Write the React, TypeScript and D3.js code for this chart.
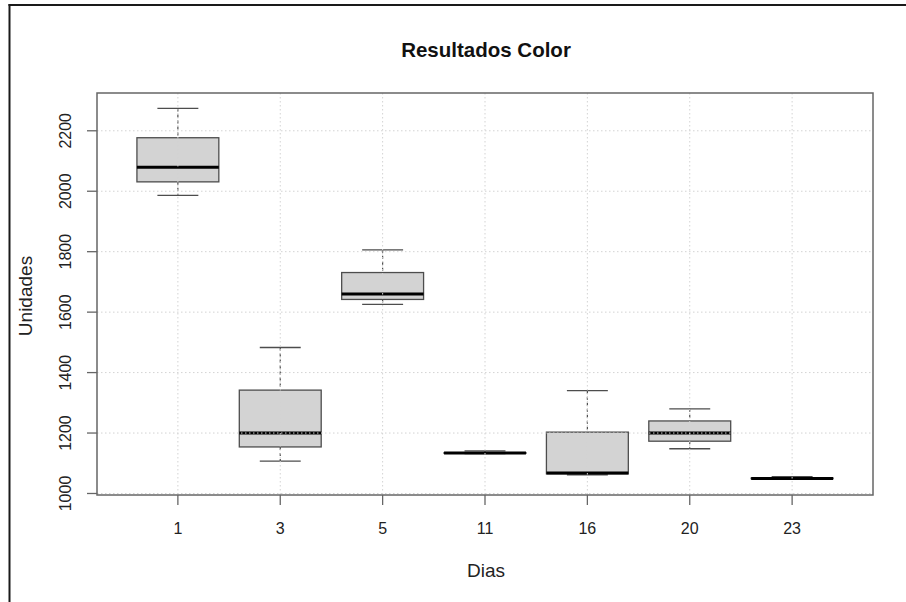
import React from "react";
import * as d3 from "d3";

const dias = ["1", "3", "5", "11", "16", "20", "23"];
const lowerWhisker = [1986, 1107, 1626, 1132, 1062, 1148, 1048];
const q1 = [2031, 1154, 1642, 1133, 1065, 1173, 1049];
const medians = [2079, 1200, 1660, 1134, 1068, 1200, 1050];
const q3 = [2177, 1342, 1731, 1135, 1203, 1240, 1051];
const upperWhisker = [2274, 1483, 1806, 1141, 1340, 1280, 1056];
const yTicks = [1000, 1200, 1400, 1600, 1800, 2000, 2200];

const W = 906;
const H = 602;
const L = 97, R = 873, T = 93, B = 495;

export default function App() {
  const x = d3.scaleLinear().domain([0.21, 7.79]).range([L, R]);
  const y = d3.scaleLinear().domain([995, 2325]).range([B, T]);
  const boxW = x(0.8) - x(0);
  const capW = x(0.4) - x(0);
  const font = "Liberation Sans, Arial, sans-serif";
  const boxStroke = "#4d4d4d";
  const gridColor = "#d3d3d3";

  return (
    <svg width={W} height={H} style={{ position: "absolute", left: 0, top: 0, background: "#fff" }} fontFamily={font}>
      <rect x={0} y={0} width={W} height={H} fill="#fff" />
      {/* outer frame */}
      <line x1={9.5} x2={9.5} y1={4} y2={H} stroke="#1a1a1a" strokeWidth={2} />
      <line x1={8.5} x2={W} y1={5} y2={5} stroke="#1a1a1a" strokeWidth={2} />

      <text x={486} y={57} textAnchor="middle" fontWeight="bold" fontSize={20.5} fill="#111">
        Resultados Color
      </text>

      {/* boxes */}
      {dias.map((d, i) => {
        const cx = x(i + 1);
        return (
          <g key={d}>
            <line x1={cx} x2={cx} y1={y(upperWhisker[i])} y2={y(q3[i])} stroke={boxStroke} strokeWidth={1.2} strokeDasharray="3,3" />
            <line x1={cx} x2={cx} y1={y(q1[i])} y2={y(lowerWhisker[i])} stroke={boxStroke} strokeWidth={1.2} strokeDasharray="3,3" />
            <line x1={cx - capW / 2} x2={cx + capW / 2} y1={y(upperWhisker[i])} y2={y(upperWhisker[i])} stroke={boxStroke} strokeWidth={1.3} />
            <line x1={cx - capW / 2} x2={cx + capW / 2} y1={y(lowerWhisker[i])} y2={y(lowerWhisker[i])} stroke={boxStroke} strokeWidth={1.3} />
            <rect x={cx - boxW / 2} y={y(q3[i])} width={boxW} height={Math.max(0.5, y(q1[i]) - y(q3[i]))} fill="#d3d3d3" stroke={boxStroke} strokeWidth={1.3} />
            <line x1={cx - boxW / 2} x2={cx + boxW / 2} y1={y(medians[i])} y2={y(medians[i])} stroke="#000" strokeWidth={3} />
          </g>
        );
      })}

      {/* grid */}
      {yTicks.map((t) => (
        <line key={"gy" + t} x1={L} x2={R} y1={y(t)} y2={y(t)} stroke={gridColor} strokeWidth={1} strokeDasharray="1.5,2.5" />
      ))}
      {dias.map((d, i) => (
        <line key={"gx" + d} x1={x(i + 1)} x2={x(i + 1)} y1={T} y2={B} stroke={gridColor} strokeWidth={1} strokeDasharray="1.5,2.5" />
      ))}

      {/* plot box */}
      <rect x={L} y={T} width={R - L} height={B - T} fill="none" stroke="#666" strokeWidth={1.5} />

      {/* y axis */}
      {yTicks.map((t) => (
        <g key={"yt" + t}>
          <line x1={L - 10} x2={L} y1={y(t)} y2={y(t)} stroke="#666" strokeWidth={1.3} />
          <text transform={`translate(71, ${y(t)}) rotate(-90)`} textAnchor="middle" fontSize={16} fill="#222">
            {t}
          </text>
        </g>
      ))}
      <text transform={`translate(32, 296) rotate(-90)`} textAnchor="middle" fontSize={19} fill="#222">
        Unidades
      </text>

      {/* x axis */}
      {dias.map((d, i) => (
        <g key={"xt" + d}>
          <line x1={x(i + 1)} x2={x(i + 1)} y1={B} y2={B + 10} stroke="#666" strokeWidth={1.3} />
          <text x={x(i + 1)} y={534} textAnchor="middle" fontSize={16} fill="#222">
            {d}
          </text>
        </g>
      ))}
      <text x={486} y={577} textAnchor="middle" fontSize={19} fill="#222">
        Dias
      </text>
    </svg>
  );
}
